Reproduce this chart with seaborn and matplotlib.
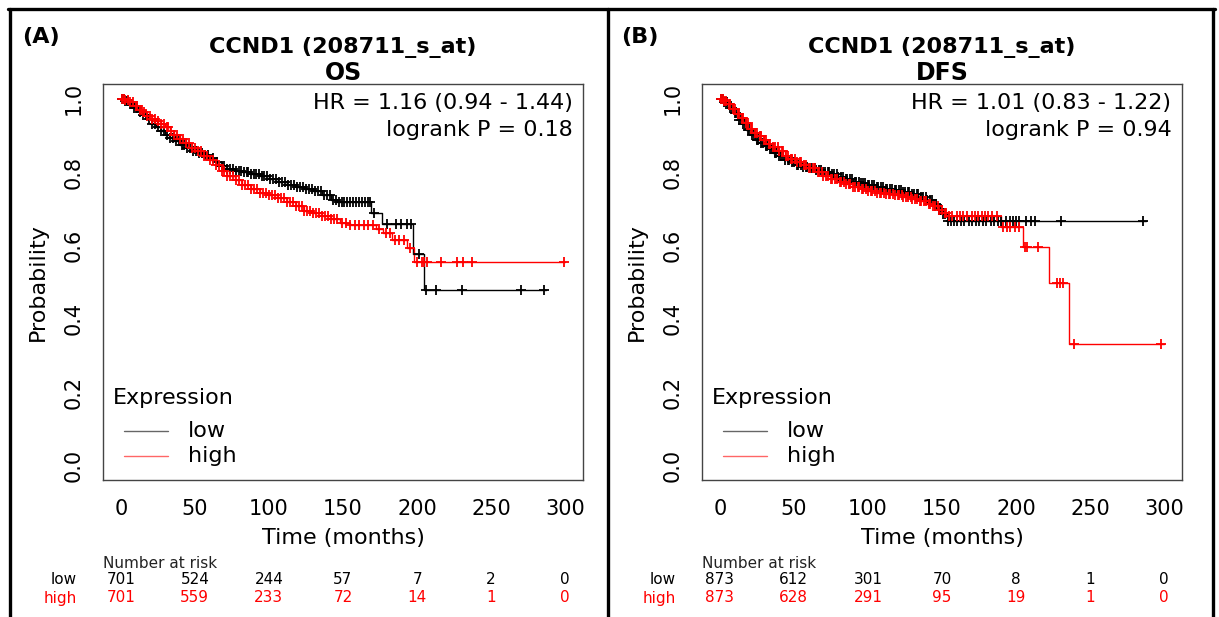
import numpy as np
import pandas as pd
import matplotlib
matplotlib.use("Agg")
import matplotlib.pyplot as plt
import seaborn as sns
from matplotlib.lines import Line2D
from matplotlib.transforms import blended_transform_factory

# ---- data ----
os_low_time = [0, 3, 6, 9, 12, 15, 18, 21, 24, 27, 30, 33, 36, 40, 44, 48, 52, 56, 60, 64, 68,
               72, 77, 82, 88, 94, 100, 106, 112, 118, 124, 130, 136, 142, 146, 169, 176, 197, 205, 287]
os_low_surv = [1.0, 0.995, 0.985, 0.975, 0.963, 0.955, 0.945, 0.932, 0.922, 0.912, 0.902, 0.893,
               0.884, 0.874, 0.866, 0.858, 0.853, 0.846, 0.838, 0.827, 0.816, 0.808, 0.802, 0.799,
               0.794, 0.788, 0.781, 0.773, 0.765, 0.758, 0.753, 0.748, 0.738, 0.725, 0.718, 0.688,
               0.657, 0.576, 0.478, 0.478]
os_low_cens = [1, 2, 3, 4, 5, 7, 9, 11, 13, 15, 17, 19, 21, 23, 25, 27, 29, 31, 33, 35, 37, 39,
               41, 43, 45, 47, 49, 51, 53, 55, 57, 59, 62, 65, 68, 70, 72, 74, 76, 78, 80, 81, 83,
               85, 86, 88, 90, 91, 93, 95, 97, 99, 101, 103, 105, 107, 109, 111, 113, 115, 117,
               119, 121, 123, 125, 127, 129, 131, 133, 135, 137, 139, 141, 143, 145, 147, 149,
               151, 153, 155, 157, 159, 161, 163, 165, 167, 168, 171, 180, 186, 189, 193, 196,
               201, 206, 213, 230, 270, 286]

os_high_time = [0, 3, 6, 9, 12, 15, 18, 21, 24, 27, 30, 33, 36, 40, 44, 48, 52, 56, 60, 64, 68,
                72, 77, 82, 88, 94, 100, 106, 112, 118, 124, 130, 136, 142, 148, 155, 172, 177,
                183, 193, 198, 300]
os_high_surv = [1.0, 0.997, 0.99, 0.98, 0.97, 0.963, 0.953, 0.945, 0.94, 0.932, 0.922, 0.912,
                0.902, 0.89, 0.878, 0.866, 0.857, 0.845, 0.833, 0.818, 0.803, 0.79, 0.778, 0.765,
                0.753, 0.743, 0.738, 0.73, 0.718, 0.706, 0.695, 0.688, 0.68, 0.672, 0.662, 0.655,
                0.645, 0.633, 0.615, 0.593, 0.555, 0.555]
os_high_cens = [1, 2, 3, 5, 6, 8, 10, 11, 13, 14, 16, 18, 20, 21, 23, 25, 27, 29, 31, 32, 34,
                36, 38, 40, 42, 44, 46, 48, 50, 52, 54, 56, 58, 60, 62, 64, 66, 68, 70, 72, 74,
                76, 78, 80, 82, 84, 86, 88, 90, 92, 94, 96, 98, 100, 102, 104, 106, 108, 110,
                112, 114, 116, 118, 120, 122, 124, 126, 128, 130, 132, 134, 136, 138, 140, 142,
                144, 146, 149, 152, 155, 158, 161, 164, 167, 170, 174, 179, 182, 185, 188, 191,
                195, 200, 203, 205, 207, 216, 227, 231, 237, 299]

dfs_low_time = [0, 3, 6, 9, 12, 15, 18, 21, 24, 27, 30, 33, 36, 40, 44, 48, 52, 56, 60, 65, 70,
                75, 80, 85, 90, 95, 100, 106, 112, 118, 124, 130, 135, 140, 144, 148, 151, 154, 288]
dfs_low_surv = [1.0, 0.99, 0.975, 0.96, 0.943, 0.93, 0.915, 0.9, 0.888, 0.878, 0.87, 0.862,
                0.853, 0.843, 0.834, 0.826, 0.82, 0.815, 0.81, 0.806, 0.801, 0.794, 0.787, 0.78,
                0.774, 0.769, 0.764, 0.759, 0.754, 0.75, 0.746, 0.74, 0.733, 0.724, 0.712, 0.698,
                0.686, 0.667, 0.667]
dfs_low_cens = [1, 2, 3, 4, 5, 7, 8, 10, 11, 13, 14, 16, 17, 19, 20, 22, 23, 25, 26, 28, 29, 31,
                32, 34, 35, 37, 38, 40, 41, 43, 44, 46, 47, 49, 50, 52, 53, 55, 56, 58, 59, 61,
                62, 64, 65, 67, 68, 70, 71, 73, 74, 76, 77, 79, 80, 82, 83, 85, 86, 88, 89, 91,
                92, 94, 95, 97, 98, 100, 101, 103, 104, 106, 107, 109, 110, 112, 113, 115, 116,
                118, 119, 121, 122, 124, 125, 127, 128, 130, 131, 133, 134, 136, 137, 139, 140,
                142, 143, 145, 146, 148, 149, 151, 152, 154, 156, 158, 160, 163, 165, 168, 170,
                173, 175, 178, 180, 183, 185, 188, 190, 193, 196, 198, 200, 202, 207, 210, 213,
                230, 286]

dfs_high_time = [0, 3, 6, 9, 12, 15, 18, 21, 24, 27, 30, 33, 36, 40, 44, 48, 52, 56, 60, 65, 70,
                 75, 80, 85, 90, 95, 100, 106, 112, 118, 124, 130, 135, 140, 144, 148, 151, 154,
                 190, 204.5, 222, 236, 300]
dfs_high_surv = [1.0, 0.995, 0.985, 0.972, 0.958, 0.947, 0.933, 0.918, 0.906, 0.897, 0.887,
                 0.877, 0.868, 0.857, 0.845, 0.835, 0.826, 0.818, 0.81, 0.8, 0.79, 0.782, 0.774,
                 0.766, 0.759, 0.754, 0.749, 0.744, 0.74, 0.736, 0.731, 0.726, 0.72, 0.713, 0.706,
                 0.697, 0.688, 0.68, 0.651, 0.596, 0.496, 0.33, 0.33]
dfs_high_cens = [1, 2, 3, 4, 6, 7, 9, 10, 12, 13, 15, 16, 18, 19, 21, 22, 24, 25, 27, 28, 30,
                 31, 33, 34, 36, 37, 39, 40, 42, 43, 45, 46, 48, 49, 51, 52, 54, 55, 57, 58, 60,
                 61, 63, 64, 66, 67, 69, 70, 72, 73, 75, 76, 78, 79, 81, 82, 84, 85, 87, 88, 90,
                 91, 93, 94, 96, 97, 99, 100, 102, 103, 105, 106, 108, 109, 111, 112, 114, 115,
                 117, 118, 120, 121, 123, 124, 126, 127, 129, 130, 132, 133, 135, 136, 138, 139,
                 141, 142, 144, 145, 147, 148, 150, 152, 153, 155, 157, 160, 162, 164, 167, 170,
                 172, 174, 177, 179, 181, 184, 187, 191, 194, 196, 199, 202, 206, 207.6, 215,
                 227.6, 229.7, 231.6, 239, 298]

risk_times = [0, 50, 100, 150, 200, 250, 300]
os_risk_low = [701, 524, 244, 57, 7, 2, 0]
os_risk_high = [701, 559, 233, 72, 14, 1, 0]
dfs_risk_low = [873, 612, 301, 70, 8, 1, 0]
dfs_risk_high = [873, 628, 291, 95, 19, 1, 0]

panels = [
    ("(A)", "OS", "HR = 1.16 (0.94 - 1.44)", "logrank P = 0.18",
     (os_low_time, os_low_surv, os_low_cens), (os_high_time, os_high_surv, os_high_cens),
     os_risk_low, os_risk_high),
    ("(B)", "DFS", "HR = 1.01 (0.83 - 1.22)", "logrank P = 0.94",
     (dfs_low_time, dfs_low_surv, dfs_low_cens), (dfs_high_time, dfs_high_surv, dfs_high_cens),
     dfs_risk_low, dfs_risk_high),
]

W, H = 1219, 617
sns.set_style("white")
plt.rcParams['font.family'] = ['DejaVu Sans']
plt.rcParams['text.color'] = 'black'
plt.rcParams['axes.labelcolor'] = 'black'
plt.rcParams['xtick.labelcolor'] = 'black'
plt.rcParams['ytick.labelcolor'] = 'black'


def fx(px):
    return px / W


def fy(py):
    return 1 - py / H


def censor_points(times, surv, cens):
    idx = np.searchsorted(times, cens, side='right') - 1
    return pd.DataFrame({'time': cens, 'surv': np.asarray(surv)[idx]})


fig = plt.figure(figsize=(W / 100, H / 100), dpi=100)
axes_left = [103, 702]
offsets = [0, 599]

for (tag, endpoint, hr, lr, low, high, rlow, rhigh), left, off in zip(panels, axes_left, offsets):
    ax = fig.add_axes([fx(left), fy(480), 480 / W, 396 / H])
    for (times, surv, cens), col in [(low, 'black'), (high, 'red')]:
        curve = pd.DataFrame({'time': times, 'surv': surv})
        sns.lineplot(data=curve, x='time', y='surv', ax=ax, color=col, lw=1.0,
                     drawstyle='steps-post', estimator=None, sort=False)
        marks = censor_points(times, surv, cens)
        sns.scatterplot(data=marks, x='time', y='surv', ax=ax, color=col, marker='+',
                        s=50, linewidth=1.3, zorder=3)

    ax.set_xlim(-12, 312)
    ax.set_ylim(-0.04, 1.04)
    ax.set_xticks(risk_times)
    ax.set_yticks([0.0, 0.2, 0.4, 0.6, 0.8, 1.0])
    ax.set_yticklabels(['0.0', '0.2', '0.4', '0.6', '0.8', '1.0'], rotation=90, va='center')
    ax.tick_params(axis='both', direction='out', length=7, width=1, color='#444444',
                   labelsize=15, pad=7)
    for sp in ax.spines.values():
        sp.set_color('#444444')
        sp.set_linewidth(1)
    ax.set_xlabel('Time (months)', fontsize=16, labelpad=6)
    ax.set_ylabel('Probability', fontsize=16, labelpad=11)

    ax.text(0.978, 0.953, hr, transform=ax.transAxes, ha='right', va='center', fontsize=16)
    ax.text(0.978, 0.885, lr, transform=ax.transAxes, ha='right', va='center', fontsize=16)

    # legend drawn R-style
    fig.text(fx(113 + off), fy(398), 'Expression', ha='left', va='center', fontsize=16)
    for yy, col, lab in [(431, 'black', 'low'), (456, 'red', 'high')]:
        fig.add_artist(Line2D([fx(124 + off), fx(168 + off)], [fy(yy), fy(yy)],
                              color=col, lw=1, alpha=0.6))
        fig.text(fx(188 + off), fy(yy), lab, ha='left', va='center', fontsize=16)

    # titles
    cx = left + 240
    fig.text(fx(22 + off), fy(37), tag, ha='left', va='center', fontsize=16, fontweight='bold')
    fig.text(fx(cx), fy(47), 'CCND1 (208711_s_at)', ha='center', va='center',
             fontsize=16, fontweight='bold')
    fig.text(fx(cx), fy(73), endpoint, ha='center', va='center', fontsize=17, fontweight='bold')

    # number at risk table
    tr_ax = blended_transform_factory(ax.transAxes, fig.transFigure)
    tr_dat = blended_transform_factory(ax.transData, fig.transFigure)
    fig.text(0.0, fy(563), 'Number at risk', transform=tr_ax, ha='left', va='center',
             fontsize=11, color='#222222')
    fig.text(fx(77 + off), fy(580), 'low', ha='right', va='center', fontsize=11)
    fig.text(fx(77 + off), fy(598), 'high', ha='right', va='center', fontsize=11, color='red')
    for t, a, b in zip(risk_times, rlow, rhigh):
        fig.text(t, fy(580), str(a), transform=tr_dat, ha='center', va='center', fontsize=11)
        fig.text(t, fy(598), str(b), transform=tr_dat, ha='center', va='center', fontsize=11,
                 color='red')

# frame lines around the panels
frame_lw = 2.4
fig.add_artist(Line2D([fx(8), fx(1215)], [fy(9), fy(9)], color='black', lw=frame_lw))
for xx in [10, 608, 1213]:
    fig.add_artist(Line2D([fx(xx), fx(xx)], [fy(9), 0], color='black', lw=frame_lw))

fig.savefig('out.png', dpi=100)
